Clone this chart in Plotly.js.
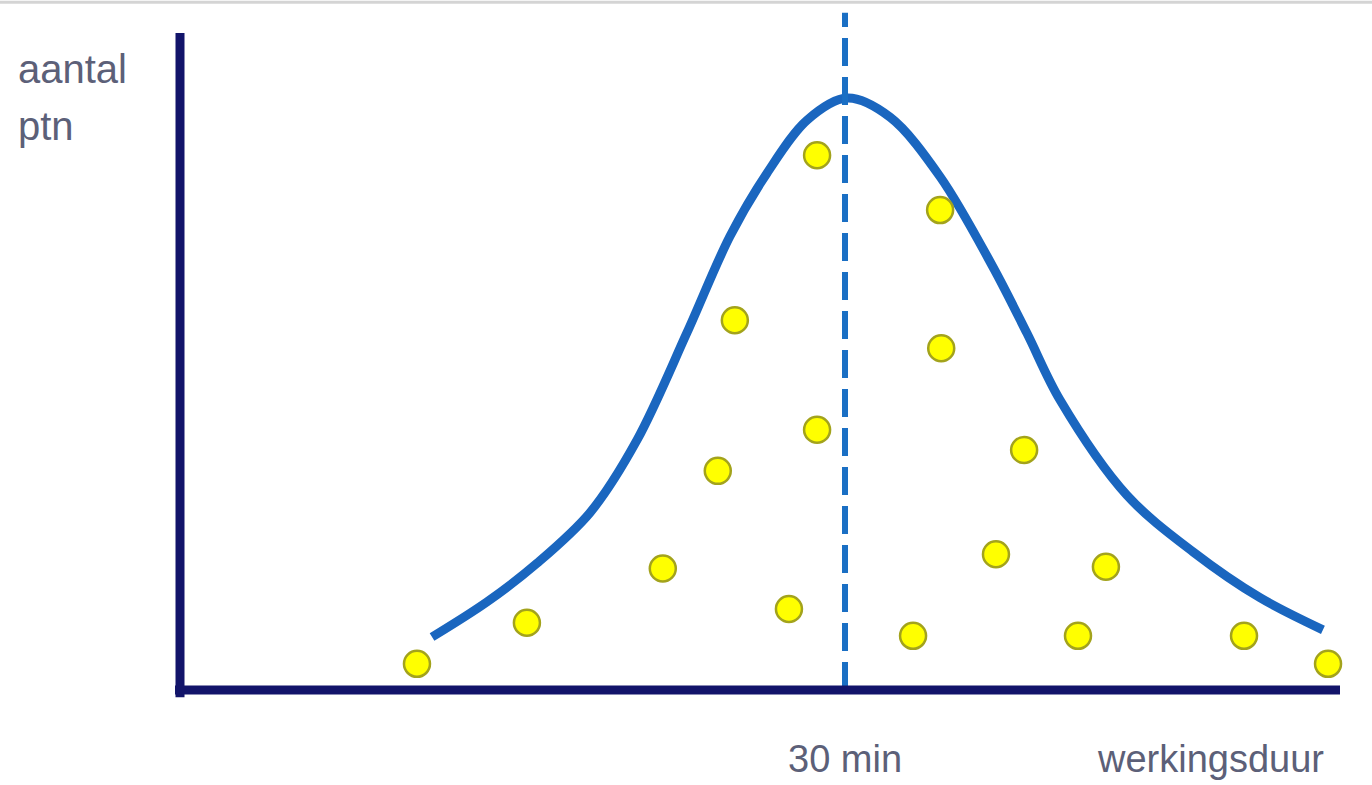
<!DOCTYPE html>
<html>
<head>
<meta charset="utf-8">
<script src="https://cdn.plot.ly/plotly-3.0.1.min.js"></script>
<style>html,body{margin:0;padding:0;background:#fff;}#chart{width:1372px;height:785px;}</style>
</head>
<body>
<div id="chart"></div>
<script>
// Patients (yellow dots): action duration (min) vs number of patients
const dotMinutes = [10.69, 15.65, 21.78, 24.26, 25.03, 27.47, 28.74, 28.74, 33.07, 34.29, 34.34, 36.81, 38.08, 40.51, 41.77, 48.00, 51.79];
const dotCounts  = [0.44, 1.13, 2.04, 3.68, 6.21, 1.36, 8.98, 4.37, 0.91, 8.06, 5.74, 2.28, 4.03, 0.91, 2.07, 0.91, 0.44];

// Bell curve
const curveMinutes = [11.37, 13.85, 16.11, 18.50, 20.62, 22.87, 24.81, 26.48, 28.29, 30.09, 32.03, 34.29, 36.68, 38.21, 39.70, 42.72, 45.70, 48.72, 51.56];
const curveCounts  = [0.89, 1.48, 2.13, 2.98, 4.20, 6.00, 7.62, 8.68, 9.57, 9.94, 9.62, 8.62, 7.10, 5.99, 4.87, 3.27, 2.32, 1.55, 1.01];

const medianMinutes = 30;
const labelMedian = "30 min";
const labelX = "werkingsduur";
const labelYLine1 = "aantal";
const labelYLine2 = "ptn";

const textFont = {family: "'Liberation Sans', Arial, sans-serif", size: 38, color: "#5c6078"};
const yLabelFont = {family: "'Liberation Sans', Arial, sans-serif", size: 40, color: "#5c6078"};

const traces = [
  {
    x: curveMinutes, y: curveCounts, type: "scatter", mode: "lines",
    line: {color: "#1a66bf", width: 9, shape: "spline", smoothing: 0.95},
    hoverinfo: "skip", cliponaxis: false
  },
  {
    x: dotMinutes, y: dotCounts, type: "scatter", mode: "markers",
    marker: {size: 26, color: "#ffff00", line: {color: "#a3a31c", width: 2.5}},
    cliponaxis: false
  }
];

const layout = {
  width: 1372, height: 785,
  margin: {l: 180, r: 32, t: 35, b: 95},
  paper_bgcolor: "#ffffff", plot_bgcolor: "#ffffff",
  showlegend: false,
  xaxis: {range: [0, 52.33], showgrid: false, zeroline: false, showticklabels: false, showline: false, ticks: ""},
  yaxis: {range: [0, 11], showgrid: false, zeroline: false, showticklabels: false, showline: false, ticks: ""},
  shapes: [
    {type: "line", xref: "paper", yref: "paper", x0: -0.2, x1: 1.03, y0: 1.05, y1: 1.05, line: {color: "#d4d4d4", width: 3}, layer: "above"},
    {type: "line", xref: "x", yref: "paper", x0: medianMinutes, x1: medianMinutes, y0: 0, y1: 1.034, line: {color: "#1a6fc4", width: 6, dash: "28px,11px"}, layer: "above"},
    {type: "line", xref: "paper", yref: "paper", x0: 0, x1: 0, y0: -0.011, y1: 1.003, line: {color: "#12146a", width: 9}, layer: "above"},
    {type: "line", xref: "paper", yref: "paper", x0: -0.0043, x1: 1, y0: 0, y1: 0, line: {color: "#12146a", width: 9}, layer: "above"}
  ],
  annotations: [
    {text: labelYLine1, xref: "paper", yref: "paper", x: -0.1414, y: 0.948, xanchor: "left", yanchor: "middle", align: "left", showarrow: false, font: yLabelFont},
    {text: labelYLine2, xref: "paper", yref: "paper", x: -0.1414, y: 0.861, xanchor: "left", yanchor: "middle", align: "left", showarrow: false, font: yLabelFont},
    {text: labelMedian, xref: "x", yref: "paper", x: medianMinutes, y: -0.105, xanchor: "center", yanchor: "middle", showarrow: false, font: textFont},
    {text: labelX, xref: "paper", yref: "paper", x: 0.888, y: -0.105, xanchor: "center", yanchor: "middle", showarrow: false, font: textFont}
  ]
};

Plotly.newPlot("chart", traces, layout, {displayModeBar: false, staticPlot: true});
</script>
</body>
</html>
